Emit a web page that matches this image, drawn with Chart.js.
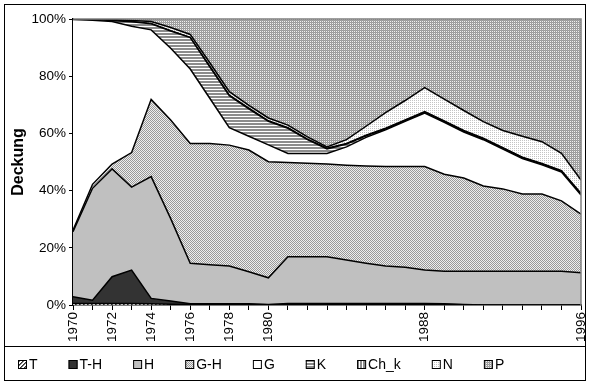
<!DOCTYPE html>
<html>
<head>
<meta charset="utf-8">
<script src="https://cdn.jsdelivr.net/npm/chart.js@4.4.1/dist/chart.umd.min.js"></script>
<style>
    html, body { margin: 0; padding: 0; background: #fff; }
</style>
</head>
<body>
<canvas id="grafico" width="589" height="383"></canvas>
<script>
const anios = [1970,1971,1972,1973,1974,1975,1976,1977,1978,1979,1980,1981,1982,1983,1984,1985,1986,1987,1988,1989,1990,1991,1992,1993,1994,1995,1996]
const aniosConEtiqueta = [1970,1972,1974,1976,1978,1980,1988,1996]

// Deckung in %, von unten nach oben gestapelt
const serieT   = [0.5,0.5,0.5,0.5,0.4,0.3,0.2,0.2,0.2,0.2,0.1,0.2,0.2,0.2,0.2,0.2,0.2,0.2,0.2,0.2,0.1,0,0,0,0,0,0]
const serieTH  = [2.4,1.2,9.4,11.7,1.9,1.1,0.2,0.2,0.2,0.2,0.1,0.3,0.3,0.3,0.3,0.3,0.3,0.3,0.3,0.2,0.1,0,0,0,0,0,0]
const serieH   = [22.7,39.1,37.7,29.0,42.6,28.8,14.2,13.7,13.2,11.2,9.3,16.4,16.4,16.4,15.2,14.1,13.1,12.7,11.7,11.4,11.6,11.8,11.8,11.8,11.8,11.8,11.3]
const serieGH  = [0.6,1.4,1.7,12.1,27.0,34.5,41.9,42.4,42.3,42.6,40.6,32.9,32.7,32.4,33.2,34.0,34.8,35.2,36.2,33.9,32.6,29.8,28.8,27.0,27.0,24.6,20.5]
const serieG   = [73.6,57.4,49.8,44.2,24.3,25.1,26.0,15.8,6.1,4.8,5.9,3.2,3.4,3.7,6.4,10.0,12.9,15.8,18.7,18.2,16.1,16.2,13.9,12.4,10.2,10.1,6.7]
const serieK   = [0.1,0.2,0.4,1.5,2.1,6.0,11.0,11.0,11.2,9.6,8.2,8.8,4.8,1.6,1.0,0.6,0.3,0.3,0.3,0.3,0.3,0.3,0.3,0.3,0.3,0.3,0.3]
const serieChk = [0.1,0.1,0.1,0.1,0.1,0.1,0.1,0.2,0.2,0.2,0.2,0.2,0.2,0.2,0.2,0.2,0.2,0.2,0.2,0.2,0.2,0.2,0.2,0.2,0.2,0.2,0.2]
const serieN   = [0,0.1,0.2,0.4,0.7,1.1,1.0,1.2,1.2,1.0,1.0,0.9,0.8,0.5,1.3,3.1,5.5,6.8,8.4,7.6,7.0,5.8,6.0,7.3,7.6,6.0,4.7]
const serieP   = [0,0,0.2,0.5,0.9,3.0,5.4,15.3,25.4,30.2,34.6,37.1,41.2,44.7,42.2,37.5,32.7,28.5,24.0,28.0,32.0,35.9,39.0,41.0,42.9,47.0,56.3]

const fuente = '"Liberation Sans", Arial, sans-serif'

function patron(w, h, pintar) {
    let c = document.createElement('canvas')
    c.width = w
    c.height = h
    let g = c.getContext('2d')
    g.fillStyle = '#fff'
    g.fillRect(0, 0, w, h)
    pintar((x, y, color) => { g.fillStyle = color; g.fillRect(x, y, 1, 1) })
    return g.createPattern(c, 'repeat')
}

const rellenoT = patron(4, 4, px => {
    for (let i = 0; i < 4; i++) { px(i, 3 - i, '#333'); px((i + 1) % 4, 3 - i, '#777') }
})
const rellenoGH = patron(2, 2, px => { px(0, 0, '#999'); px(1, 1, '#999'); px(1, 0, '#eee'); px(0, 1, '#eee') })
const rellenoK = patron(4, 3, px => { for (let i = 0; i < 4; i++) { px(i, 0, '#8c8c8c'); px(i, 1, '#8c8c8c') } })
const rellenoChk = patron(3, 4, px => { for (let j = 0; j < 4; j++) { px(0, j, '#8c8c8c'); px(1, j, '#8c8c8c') } })
const rellenoN = patron(2, 2, px => { px(0, 0, '#c4c4c4') })
const rellenoP = patron(2, 2, px => { px(0, 0, '#9a9a9a'); px(1, 1, '#9a9a9a'); px(1, 0, '#a4a4a4'); px(0, 1, '#f0f0f0') })

function puntos(valores) {
    return anios.map((a, i) => ({ x: a, y: valores[i] }))
}

function capa(nombre, valores, relleno, borde) {
    return {
        label: nombre,
        data: puntos(valores),
        backgroundColor: relleno,
        borderColor: '#000',
        borderWidth: borde,
        fill: nombre === 'T' ? 'origin' : '-1',
        pointRadius: 0,
        tension: 0
    }
}

const marcoYLeyenda = {
    id: 'marcoYLeyenda',
    afterDraw(chart) {
        const ctx = chart.ctx
        const area = chart.chartArea
        ctx.save()
        // borde gris del area de trazado
        ctx.strokeStyle = '#808080'
        ctx.lineWidth = 1.5
        ctx.beginPath()
        ctx.moveTo(area.left, area.top)
        ctx.lineTo(area.right, area.top)
        ctx.lineTo(area.right, area.bottom)
        ctx.stroke()
        // marco exterior y separador de la leyenda
        ctx.strokeStyle = '#000'
        ctx.lineWidth = 1
        ctx.strokeRect(4.5, 4.5, chart.width - 8, chart.height - 7)
        const ySep = chart.height - 36.5
        ctx.beginPath()
        ctx.moveTo(4.5, ySep)
        ctx.lineTo(chart.width - 3.5, ySep)
        ctx.stroke()
        // leyenda
        ctx.font = '14px ' + fuente
        ctx.textBaseline = 'middle'
        let x = 18
        const yc = chart.height - 19
        chart.data.datasets.forEach(ds => {
            ctx.fillStyle = ds.backgroundColor
            ctx.fillRect(x, yc - 4, 9, 9)
            ctx.strokeRect(x + 0.5, yc - 3.5, 8, 8)
            ctx.fillStyle = '#000'
            ctx.fillText(ds.label, x + 11, yc + 1)
            x += 11 + ctx.measureText(ds.label).width + 31
        })
        ctx.restore()
    }
}

new Chart(document.getElementById('grafico'), {
    type: 'line',
    data: {
        datasets: [
            capa('T', serieT, rellenoT, 1.5),
            capa('T-H', serieTH, '#333333', 1.5),
            capa('H', serieH, '#c0c0c0', 1.5),
            capa('G-H', serieGH, rellenoGH, 1.5),
            capa('G', serieG, '#ffffff', 1.5),
            capa('K', serieK, rellenoK, 1.5),
            capa('Ch_k', serieChk, rellenoChk, 1.5),
            capa('N', serieN, rellenoN, 1.5),
            capa('P', serieP, rellenoP, 0)
        ]
    },
    options: {
        responsive: false,
        animation: false,
        layout: { padding: { left: 0, right: 8, top: 19, bottom: 36 } },
        plugins: {
            legend: { display: false },
            tooltip: { enabled: false }
        },
        scales: {
            x: {
                type: 'linear',
                min: 1970,
                max: 1996,
                afterFit: s => { s.height = 42; s.paddingLeft = 0; s.paddingRight = 0 },
                border: { color: '#000', width: 1.5 },
                grid: { drawOnChartArea: false, color: '#000', tickLength: 5 },
                ticks: {
                    stepSize: 1,
                    autoSkip: false,
                    maxRotation: 90,
                    minRotation: 90,
                    padding: 2,
                    color: '#000',
                    font: { family: fuente, size: 13.5 },
                    callback: v => aniosConEtiqueta.includes(v) ? String(v) : ''
                }
            },
            y: {
                stacked: true,
                min: 0,
                max: 100,
                afterFit: s => { s.width = 73; s.paddingTop = 0; s.paddingBottom = 0 },
                border: { color: '#000', width: 1.5 },
                grid: { drawOnChartArea: false, color: '#000', tickLength: 4 },
                ticks: {
                    stepSize: 20,
                    padding: 3,
                    color: '#000',
                    font: { family: fuente, size: 13.5 },
                    callback: v => v + '%'
                },
                title: {
                    display: true,
                    text: 'Deckung',
                    color: '#000',
                    padding: { top: 9, bottom: 0 },
                    font: { family: fuente, size: 16, weight: 'bold' }
                }
            }
        }
    },
    plugins: [marcoYLeyenda]
})
</script>
</body>
</html>
